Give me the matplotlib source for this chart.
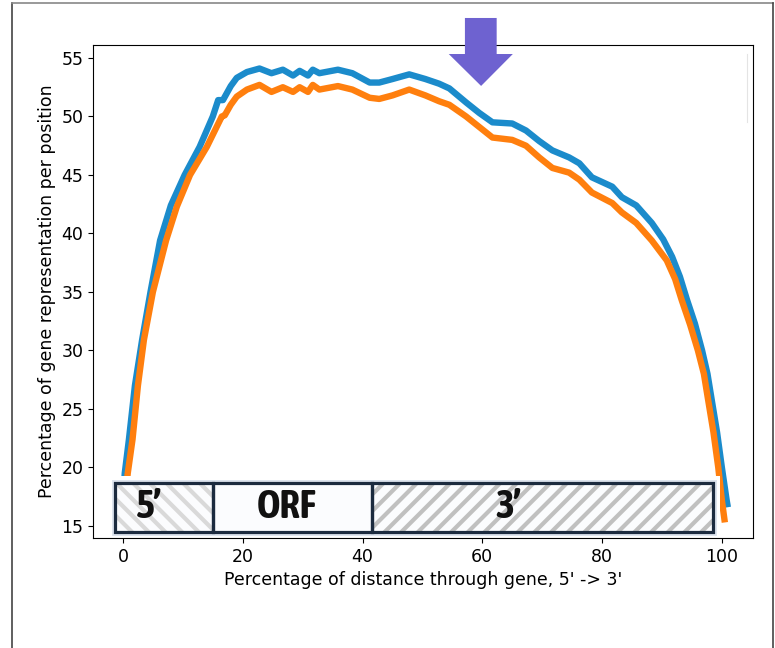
import matplotlib
matplotlib.use("Agg")
import matplotlib.pyplot as plt
from matplotlib import font_manager
from matplotlib.font_manager import FontProperties
from matplotlib.patches import Rectangle, Polygon
from matplotlib.lines import Line2D

# ---------------------------------------------------------
# DATA
# ---------------------------------------------------------
blue_x = [0.0, 0.3, 1.0, 2.0, 3.2, 4.6, 6.2, 8.0, 10.3, 12.8, 15.0, 15.9, 16.7, 18.0,
          19.0, 20.7, 22.8, 24.8, 26.7, 28.4, 29.5, 30.9, 31.7, 32.8, 35.9, 38.3,
          41.2, 42.8, 45.0, 47.8, 50.5, 52.8, 54.5, 57.3, 59.5, 61.7, 65.0, 67.3,
          69.5, 71.7, 74.5, 76.2, 78.3, 81.7, 83.3, 85.7, 88.3, 90.2, 91.7, 93.0,
          94.2, 95.5, 96.7, 97.6, 98.3, 99.2, 100.0, 100.8, 101.0]
blue_y = [17.0, 19.5, 22.4, 27.0, 30.9, 35.0, 39.4, 42.4, 45.0, 47.4, 50.0, 51.4, 51.4, 52.6,
          53.3, 53.8, 54.1, 53.7, 54.0, 53.5, 53.9, 53.5, 54.0, 53.7, 54.0, 53.7,
          52.9, 52.9, 53.2, 53.6, 53.2, 52.8, 52.4, 51.2, 50.3, 49.5, 49.4, 48.8,
          47.9, 47.1, 46.5, 46.0, 44.8, 44.0, 43.1, 42.4, 40.9, 39.5, 38.0, 36.3,
          34.3, 32.3, 30.0, 28.0, 25.8, 23.0, 20.0, 17.2, 16.6]

orange_x = [0.3, 0.8, 1.6, 2.5, 3.5, 5.0, 7.2, 9.0, 11.2, 14.0, 16.5, 17.0, 18.0, 19.0,
            20.7, 22.8, 24.8, 26.7, 28.4, 29.5, 30.9, 31.7, 32.8, 35.9, 38.3, 41.2,
            42.8, 45.0, 47.8, 50.5, 52.8, 54.5, 57.3, 59.5, 61.7, 65.0, 67.3, 69.5,
            71.7, 74.5, 76.2, 78.3, 81.7, 83.3, 85.7, 88.3, 90.8, 92.2, 93.3, 94.7,
            96.0, 97.0, 97.7, 98.6, 99.4, 100.0, 100.5]
orange_y = [17.0, 19.5, 22.4, 27.0, 30.9, 35.0, 39.4, 42.3, 45.0, 47.4, 50.0, 50.1, 51.0, 51.7,
            52.3, 52.7, 52.1, 52.5, 52.1, 52.5, 52.1, 52.7, 52.3, 52.6, 52.3, 51.6,
            51.5, 51.8, 52.3, 51.8, 51.3, 51.0, 50.0, 49.1, 48.2, 48.0, 47.5, 46.5,
            45.6, 45.2, 44.6, 43.5, 42.6, 41.8, 40.9, 39.4, 37.7, 36.1, 34.3, 32.2,
            30.0, 28.0, 25.8, 23.0, 20.0, 17.2, 15.3]

x_ticks = [0, 20, 40, 60, 80, 100]
y_ticks = [15, 20, 25, 30, 35, 40, 45, 50, 55]

# gene model segments
seg_labels = ["5\u2019", "ORF", "3\u2019"]
seg_bounds = [-1.34, 15.0, 41.6, 98.5]
seg_hatch = ["\\\\", None, "//"]
seg_hcolor = ["#d9d9d9", "white", "#c0c0c0"]
seg_text_x = [4.3, 27.4, 64.3]

# ---------------------------------------------------------
# PLOT
# ---------------------------------------------------------
plt.rcParams["hatch.linewidth"] = 3.0


def weight_num(w):
    if isinstance(w, str):
        return font_manager.weight_dict.get(w, 400)
    return w


# narrow bold face for the gene-model labels, if one is installed
bold_narrow = [f for f in font_manager.fontManager.ttflist
               if ("Narrow" in f.name or "Condensed" in f.name
                   or f.stretch in ("condensed", "semi-condensed"))
               and weight_num(f.weight) >= 600 and f.style == "normal"]
if bold_narrow:
    bold_narrow.sort(key=lambda f: (f.name != "Liberation Sans Narrow",
                                    abs(weight_num(f.weight) - 700), f.name))
    bar_prop = FontProperties(fname=bold_narrow[0].fname, size=29)
else:
    bar_prop = FontProperties(family="DejaVu Sans", weight="bold", size=22)

fig = plt.figure(figsize=(7.75, 6.48), dpi=100)
W, H = 775, 648
ax = fig.add_axes([93 / W, 1 - 538 / H, 660 / W, 493 / H])

ax.plot(blue_x, blue_y, color="#1b8bcb", lw=4.6, solid_joinstyle="round",
        solid_capstyle="butt", zorder=2)
ax.plot(orange_x, orange_y, color="#ff7f0e", lw=4.6, solid_joinstyle="round",
        solid_capstyle="butt", zorder=3)

ax.set_xlim(-5, 105.2)
ax.set_ylim(13.97, 56.11)
ax.set_xticks(x_ticks)
ax.set_yticks(y_ticks)
ax.tick_params(axis="both", labelsize=12.5)
ax.set_xlabel("Percentage of distance through gene, 5' -> 3'", fontsize=12.5)
ax.set_ylabel("Percentage of gene representation per position", fontsize=12.5)

# gene model bar pasted over the bottom of the plot
ax.add_patch(Rectangle((-2.5, 14.14), 102.2, 5.13, facecolor="white",
                       edgecolor="none", zorder=5))
y0, y1 = 14.49, 18.68
ax.add_patch(Rectangle((seg_bounds[0], y0), seg_bounds[-1] - seg_bounds[0], y1 - y0,
                       fill=False, edgecolor="#dde4ee", lw=5, zorder=6))
for i, lab in enumerate(seg_labels):
    a, b = seg_bounds[i], seg_bounds[i + 1]
    ax.add_patch(Rectangle((a, y0), b - a, y1 - y0, facecolor="#fbfcfe",
                           edgecolor=seg_hcolor[i], hatch=seg_hatch[i], lw=0, zorder=7))
    ax.add_patch(Rectangle((a, y0), b - a, y1 - y0, fill=False,
                           edgecolor="#1c2b3f", lw=2.3, zorder=8))
    ax.text(seg_text_x[i], (y0 + y1) / 2 + 0.05, lab, ha="center", va="center",
            fontproperties=bar_prop, color="#111111", zorder=9)

# purple arrow marker
arrow = Polygon([(57.1, 58.42), (62.4, 58.42), (62.4, 55.34), (65.1, 55.34),
                 (59.8, 52.61), (54.4, 55.34), (57.1, 55.34)],
                closed=True, facecolor="#6e62d0", edgecolor="none",
                clip_on=False, zorder=10)
ax.add_patch(arrow)

# outer frame of the screenshot
def fx(px):
    return px / W

def fy(py):
    return 1 - py / H

fig.add_artist(Line2D([fx(12), fx(12)], [fy(3), fy(648)], color="#444444", lw=1.2))
fig.add_artist(Line2D([fx(12), fx(773)], [fy(3), fy(3)], color="#888888", lw=1.2))
fig.add_artist(Line2D([fx(773), fx(773)], [fy(3), fy(648)], color="#444444", lw=1.2))
fig.add_artist(Line2D([fx(747), fx(747)], [fy(54), fy(122)], color="#e4e4e4", lw=0.8))

fig.savefig("out.png", dpi=100)
